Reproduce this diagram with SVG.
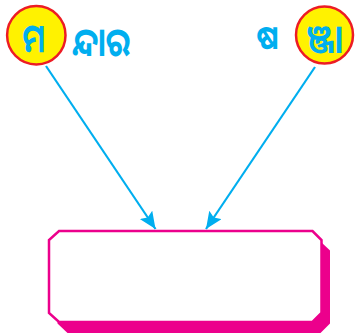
<svg xmlns="http://www.w3.org/2000/svg" width="355" height="334" viewBox="0 0 355 334">
<style>
.circ{fill:#FFF200;stroke:#ED1C24;stroke-width:2.5}
.txt{fill:#00AEEF;font-family:"Noto Sans Oriya","Lohit Odia","Kalinga","Noto Sans",sans-serif;font-weight:bold}
.conn{stroke:#00AEEF;stroke-width:2.2;fill:none}
</style>
<defs>
<marker id="ah" markerUnits="userSpaceOnUse" markerWidth="18" markerHeight="16" refX="17" refY="7.5" orient="auto">
<path d="M0,0 L17,7.5 L0,15 L3,7.5 z" fill="#00AEEF"/>
</marker>
</defs>
<g id="connectors">
<line class="conn" x1="46" y1="66" x2="155.5" y2="229" marker-end="url(#ah)"/>
<line class="conn" x1="315" y1="67" x2="206" y2="229" marker-end="url(#ah)"/>
</g>
<g id="node-left">
<circle class="circ" cx="36.3" cy="35.3" r="29.2"/>
<text class="txt" x="22.5" y="51.5" font-size="40" textLength="22.5" lengthAdjust="spacingAndGlyphs">ମ</text>
<text class="txt" x="72" y="56" font-size="40" textLength="58" lengthAdjust="spacingAndGlyphs">ନ୍ଦାର</text>
</g>
<g id="node-right">
<circle class="circ" cx="324.5" cy="35" r="28.5"/>
<text class="txt" x="306.5" y="53" font-size="40" textLength="36.5" lengthAdjust="spacingAndGlyphs">ଞ୍ଜା</text>
<text class="txt" x="256.5" y="49" font-size="33" textLength="22" lengthAdjust="spacingAndGlyphs">ଷ</text>
</g>
<g id="node-box">
<polygon points="67.5,241.5 320.5,241.5 330,250.5 330,323.5 320.5,333 67.5,333 57.5,323.5 57.5,250.5" fill="#EC008C"/>
<polygon points="59,231 312.5,231 321.5,240 321.5,313 312.5,322 59,322 49,313 49,240" fill="#FFFFFF" stroke="#EC008C" stroke-width="2.5"/>
</g>
</svg>
